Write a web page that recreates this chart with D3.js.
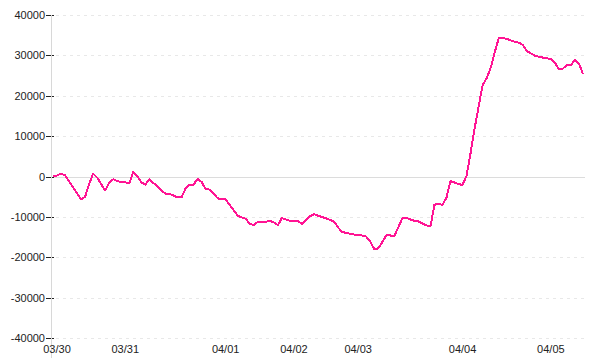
<!DOCTYPE html>
<html>
<head>
<meta charset="utf-8">
<script src="https://cdn.jsdelivr.net/npm/d3@7"></script>
<style>
  body { margin: 0; background: #fff; }
  svg { display: block; }
  text { font-family: "Liberation Sans", Arial, sans-serif; font-size: 11px; fill: #222; }
</style>
</head>
<body>
<div id="chart"></div>
<script>
'use strict';

// Series values, one per sample
var values = [
  200, 250, 700, 300, -1230, -2720, -4200, -5700, -5050, -1800,
  700, -280, -1880, -3480, -1440, -690, -1120, -1420, -1450, -1700,
  1100, 55, -1470, -2000, -650, -1650, -2350, -3520, -4230, -4290,
  -4720, -5160, -5200, -3000, -2000, -2000, -620, -1320, -3100, -3230,
  -4250, -5380, -5660, -5700, -7020, -8350, -9670, -10150, -10460, -11740,
  -11980, -11260, -11220, -11250, -10990, -11360, -12070, -10300, -10630, -10950,
  -10950, -10980, -11750, -10800, -9850, -9330, -9720, -10040, -10350, -10740,
  -11170, -12620, -13750, -13960, -14170, -14380, -14480, -14620, -14900, -16060,
  -17960, -17810, -16260, -14600, -14610, -14740, -12560, -10380, -10230, -10630,
  -10990, -11130, -11630, -12080, -12380, -7000, -6750, -7020, -5200, -1170,
  -1500, -1920, -2050, 200, 5760, 11850, 17280, 22660, 24330, 26890,
  30690, 34200, 34270, 34120, 33700, 33400, 33150, 32580, 31100, 30520,
  29940, 29680, 29460, 29290, 29030, 28270, 26480, 26750, 27630, 27620,
  28900, 27960, 25400
];

// Date labels and the sample they sit under
var dayLabels = ['03/30', '03/31', '04/01', '04/02', '04/03', '04/04', '04/05'];
var dayIndex = [1, 18, 43, 60, 76, 102, 124];

// Y ticks
var yTicks = [-40000, -30000, -20000, -10000, 0, 10000, 20000, 30000, 40000];

var width = 600, height = 360;

var svg = d3.select('#chart').append('svg')
  .attr('width', width)
  .attr('height', height);

var x = d3.scaleLinear().domain([0, values.length - 1]).range([53, 583]);
var y = d3.scaleLinear().domain([-40000, 40000]).range([338, 15]);

// Grid lines
svg.append('g').selectAll('line')
  .data(yTicks.filter(function(d) { return d !== 0; }))
  .enter().append('line')
  .attr('x1', 56).attr('x2', 584)
  .attr('y1', function(d) { return Math.round(y(d)) + 0.5; })
  .attr('y2', function(d) { return Math.round(y(d)) + 0.5; })
  .attr('stroke', '#e8e8e8')
  .attr('stroke-dasharray', '3,4');

// Zero line
svg.append('line')
  .attr('x1', 51).attr('x2', 585)
  .attr('y1', Math.round(y(0)) + 0.5).attr('y2', Math.round(y(0)) + 0.5)
  .attr('stroke', '#dcdcdc');

// Y tick marks + labels
var ty = svg.append('g').selectAll('g')
  .data(yTicks).enter().append('g')
  .attr('transform', function(d) { return 'translate(0,' + (Math.round(y(d)) + 0.5) + ')'; });

ty.append('line')
  .attr('x1', 46).attr('x2', 54)
  .attr('stroke', '#222');

ty.append('text')
  .attr('x', 45)
  .attr('dy', '0.35em')
  .attr('text-anchor', 'end')
  .text(function(d) { return d; });

// Y axis line
svg.append('line')
  .attr('x1', 51.5).attr('x2', 51.5)
  .attr('y1', 15).attr('y2', 358)
  .attr('stroke', '#d8d8d8');

// X labels
svg.append('g').selectAll('text')
  .data(dayLabels).enter().append('text')
  .attr('x', function(d, i) { return x(dayIndex[i]); })
  .attr('y', 353)
  .attr('text-anchor', 'middle')
  .text(function(d) { return d; });

// The line
var line = d3.line()
  .x(function(d, i) { return x(i); })
  .y(function(d) { return y(d); });

svg.append('path')
  .datum(values)
  .attr('d', line)
  .attr('fill', 'none')
  .attr('stroke', '#ff1493')
  .attr('stroke-width', 2)
  .attr('stroke-linejoin', 'round')
  .attr('shape-rendering', 'crispEdges');
</script>
</body>
</html>
